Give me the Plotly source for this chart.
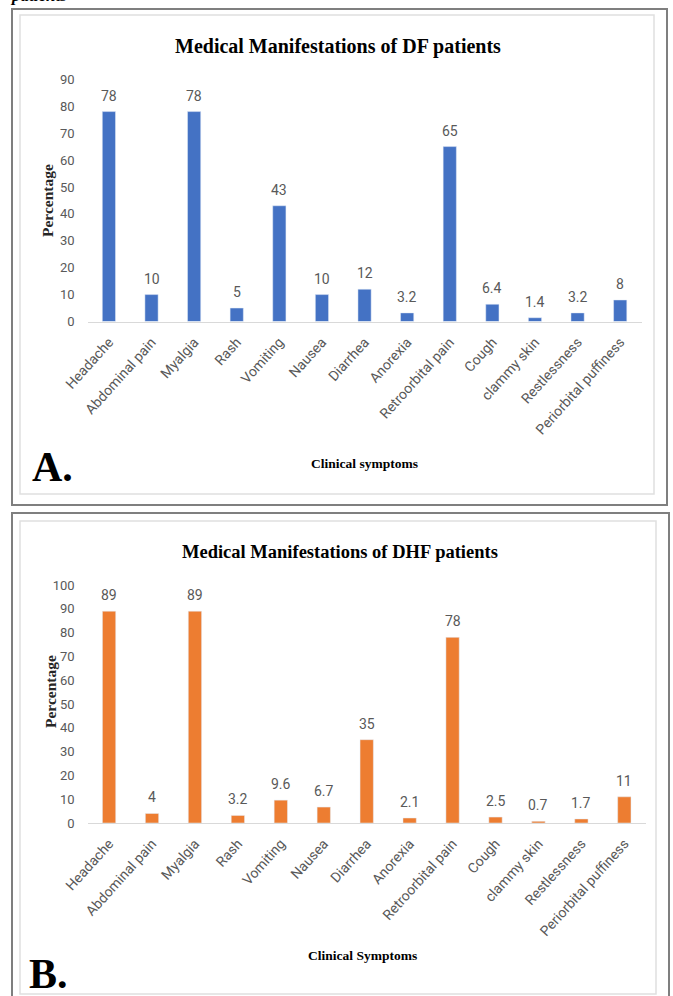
import plotly.graph_objects as go

W, H = 673, 996

categories = ["Headache", "Abdominal pain", "Myalgia", "Rash", "Vomiting", "Nausea",
              "Diarrhea", "Anorexia", "Retroorbital pain", "Cough", "clammy skin",
              "Restlessness", "Periorbital puffiness"]
df_values = [78, 10, 78, 5, 43, 10, 12, 3.2, 65, 6.4, 1.4, 3.2, 8]
dhf_values = [89, 4, 89, 3.2, 9.6, 6.7, 35, 2.1, 78, 2.5, 0.7, 1.7, 11]
df_labels = ["78", "10", "78", "5", "43", "10", "12", "3.2", "65", "6.4", "1.4", "3.2", "8"]
dhf_labels = ["89", "4", "89", "3.2", "9.6", "6.7", "35", "2.1", "78", "2.5", "0.7", "1.7", "11"]

BLUE = "#4472C4"
ORANGE = "#ED7D31"
GRAY_TXT = "#595959"
TICK_FONT = "Liberation Sans Narrow, Roboto, Open Sans, sans-serif"
SERIF = "Liberation Serif, DejaVu Serif, serif"


def px(x):
    return x / W


def py(y):
    return 1 - y / H


fig = go.Figure()
fig.add_trace(go.Bar(x=categories, y=df_values, marker_color=BLUE, xaxis="x", yaxis="y",
                     showlegend=False, hoverinfo="x+y"))
fig.add_trace(go.Bar(x=categories, y=dhf_values, marker_color=ORANGE, xaxis="x2", yaxis="y2",
                     showlegend=False, hoverinfo="x+y"))

annotations = []
for c, v, t in zip(categories, df_values, df_labels):
    annotations.append(dict(x=c, y=v, xref="x", yref="y", text=t, showarrow=False,
                            yanchor="bottom", yshift=6,
                            font=dict(family=TICK_FONT, size=14, color=GRAY_TXT)))
for c, v, t in zip(categories, dhf_values, dhf_labels):
    annotations.append(dict(x=c, y=v, xref="x2", yref="y2", text=t, showarrow=False,
                            yanchor="bottom", yshift=6,
                            font=dict(family=TICK_FONT, size=14, color=GRAY_TXT)))

# titles and labels
annotations += [
    dict(x=px(338), y=py(46), xref="paper", yref="paper", text="<b>Medical Manifestations of DF patients</b>",
         showarrow=False, font=dict(family=SERIF, size=20, color="black"), xanchor="center", yanchor="middle"),
    dict(x=px(340), y=py(552), xref="paper", yref="paper", text="<b>Medical Manifestations of DHF patients</b>",
         showarrow=False, font=dict(family=SERIF, size=18.5, color="black"), xanchor="center", yanchor="middle"),
    dict(x=px(47), y=py(201), xref="paper", yref="paper", text="<b>Percentage</b>", textangle=-90,
         showarrow=False, font=dict(family=SERIF, size=15.5, color="#262626"), xanchor="center", yanchor="middle"),
    dict(x=px(50), y=py(692), xref="paper", yref="paper", text="<b>Percentage</b>", textangle=-90,
         showarrow=False, font=dict(family=SERIF, size=15.5, color="#262626"), xanchor="center", yanchor="middle"),
    dict(x=px(364), y=py(463), xref="paper", yref="paper", text="<b>Clinical symptoms</b>",
         showarrow=False, font=dict(family=SERIF, size=13.5, color="black"), xanchor="center", yanchor="middle"),
    dict(x=px(362), y=py(955), xref="paper", yref="paper", text="<b>Clinical Symptoms</b>",
         showarrow=False, font=dict(family=SERIF, size=13.5, color="black"), xanchor="center", yanchor="middle"),
    dict(x=px(30), y=py(492), xref="paper", yref="paper", text="<b>A.</b>",
         showarrow=False, font=dict(family=SERIF, size=42, color="black"), xanchor="left", yanchor="bottom"),
    dict(x=px(27), y=py(999), xref="paper", yref="paper", text="<b>B.</b>",
         showarrow=False, font=dict(family=SERIF, size=42, color="black"), xanchor="left", yanchor="bottom"),
    dict(x=px(8), y=py(7.5), xref="paper", yref="paper", text="<b><i>patients</i></b>",
         showarrow=False, font=dict(family=SERIF, size=17, color="black"), xanchor="left", yanchor="bottom"),
]

shapes = [
    dict(type="rect", xref="paper", yref="paper", x0=px(12), x1=px(667), y0=py(505), y1=py(9),
         line=dict(color="#7f7f7f", width=2)),
    dict(type="rect", xref="paper", yref="paper", x0=px(20), x1=px(654), y0=py(494), y1=py(15),
         line=dict(color="#e0e0e0", width=1.5)),
    dict(type="rect", xref="paper", yref="paper", x0=px(12), x1=px(669), y0=py(1003), y1=py(513),
         line=dict(color="#7f7f7f", width=2)),
    dict(type="rect", xref="paper", yref="paper", x0=px(20), x1=px(656), y0=py(994), y1=py(521),
         line=dict(color="#e0e0e0", width=1.5)),
]

xaxis_common = dict(type="category", range=[-0.5, 12.5], tickangle=-48, showgrid=False,
                    showline=True, linecolor="#d9d9d9", linewidth=1, ticks="",
                    tickfont=dict(family=TICK_FONT, size=14, color=GRAY_TXT), ticklabelstandoff=6,
                    fixedrange=True, automargin=False)
yaxis_common = dict(showgrid=False, zeroline=False, showline=False, ticks="",
                    tickfont=dict(family=TICK_FONT, size=13, color=GRAY_TXT), ticklabelstandoff=12,
                    fixedrange=True, automargin=False)

fig.update_layout(
    width=W, height=H,
    margin=dict(l=0, r=0, t=0, b=0, pad=0),
    paper_bgcolor="white", plot_bgcolor="white",
    bargap=0.69,
    xaxis=dict(domain=[px(87.6), px(641.5)], anchor="y", **xaxis_common),
    yaxis=dict(domain=[py(321.5), py(79.3)], anchor="x", range=[0, 90], dtick=10, **yaxis_common),
    xaxis2=dict(domain=[px(87.6), px(645.8)], anchor="y2", **xaxis_common),
    yaxis2=dict(domain=[py(823), py(585)], anchor="x2", range=[0, 100], dtick=10, **yaxis_common),
    annotations=annotations,
    shapes=shapes,
)

fig.write_html("out.html", config={"displayModeBar": False},
               post_script="document.body.style.margin='0';document.body.style.overflow='hidden';")
